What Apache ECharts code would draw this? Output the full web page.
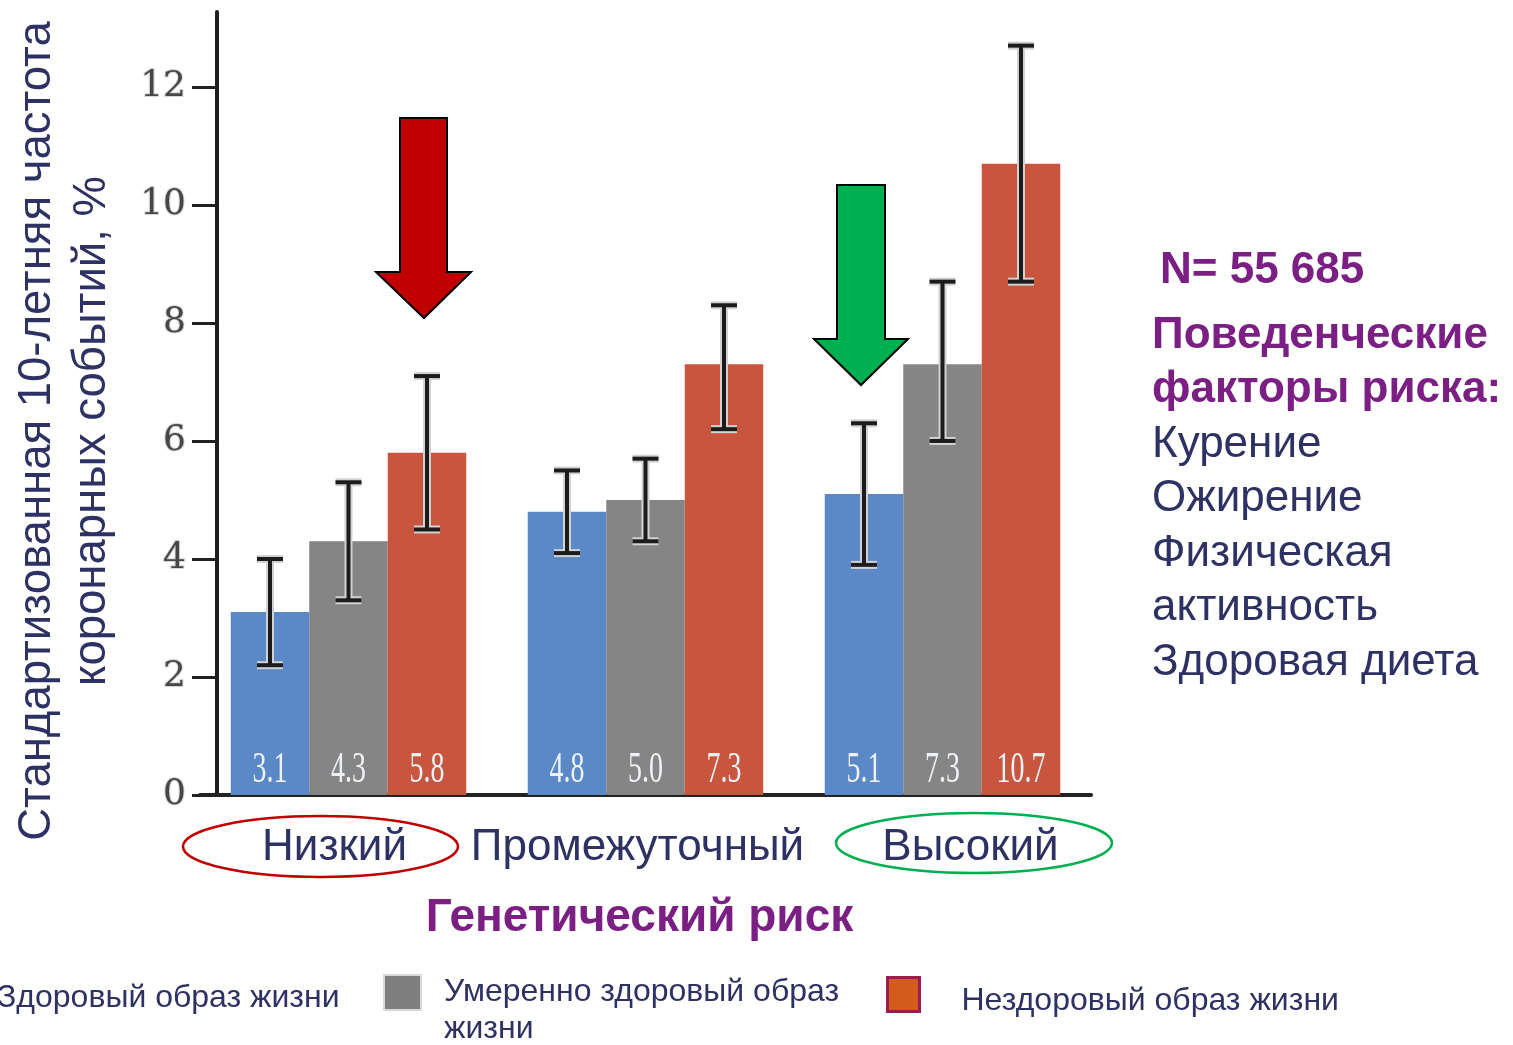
<!DOCTYPE html>
<html>
<head>
<meta charset="utf-8">
<script src="https://cdn.jsdelivr.net/npm/echarts@6/dist/echarts.min.js"></script>
<style>
html,body{margin:0;padding:0;background:#fff;}
#chart{width:1513px;height:1045px;}
</style>
</head>
<body>
<div id="chart"></div>
<script>
// ---- data ----
const categories = ['Низкий', 'Промежуточный', 'Высокий'];
const seriesNames = ['Здоровый образ жизни', 'Умеренно здоровый образ жизни', 'Нездоровый образ жизни'];
const healthy = [3.1, 4.8, 5.1];
const moderate = [4.3, 5.0, 7.3];
const unhealthy = [5.8, 7.3, 10.7];
const healthyLow = [2.2, 4.1, 3.9];
const healthyHigh = [4.0, 5.5, 6.3];
const moderateLow = [3.3, 4.3, 6.0];
const moderateHigh = [5.3, 5.7, 8.7];
const unhealthyLow = [4.5, 6.2, 8.7];
const unhealthyHigh = [7.1, 8.3, 12.7];
const yTicks = [0, 2, 4, 6, 8, 10, 12];

// ---- styling ----
const BAR_W = 78.5;
const barColors = ['#5b88c6', '#858585', '#c8553d'];
const navy = '#2e3163';
const purple = '#7b1f84';

const values = [healthy, moderate, unhealthy];
const lows = [healthyLow, moderateLow, unhealthyLow];
const highs = [healthyHigh, moderateHigh, unhealthyHigh];

const errData = [];
const lblData = [];
for (let s = 0; s < 3; s++) {
  for (let i = 0; i < categories.length; i++) {
    errData.push([i, lows[s][i], highs[s][i], s]);
    lblData.push([i, values[s][i], s]);
  }
}

function renderErr(params, api) {
  const i = api.value(0), lo = api.value(1), hi = api.value(2), s = api.value(3);
  const pLo = api.coord([i, lo]);
  const pHi = api.coord([i, hi]);
  const x = pLo[0] + (s - 1) * BAR_W;
  const cap = 13;
  const mk = (stroke, w) => [
    {type: 'line', shape: {x1: x, y1: pHi[1], x2: x, y2: pLo[1]}, style: {stroke: stroke, lineWidth: w}},
    {type: 'line', shape: {x1: x - cap, y1: pHi[1], x2: x + cap, y2: pHi[1]}, style: {stroke: stroke, lineWidth: w}},
    {type: 'line', shape: {x1: x - cap, y1: pLo[1], x2: x + cap, y2: pLo[1]}, style: {stroke: stroke, lineWidth: w}}
  ];
  return {type: 'group', children: mk('#d2d2d2', 8).concat(mk('#1c1c1c', 4))};
}

function renderLbl(params, api) {
  const i = api.value(0), v = api.value(1), s = api.value(2);
  const p0 = api.coord([i, 0]);
  return {
    type: 'text',
    x: p0[0] + (s - 1) * BAR_W,
    y: p0[1] - 25,
    scaleX: 0.62,
    style: {
      text: v.toFixed(1),
      align: 'center',
      verticalAlign: 'middle',
      fill: '#eef1f6',
      font: '45px "Liberation Serif"'
    }
  };
}

const labelShift = {c0: [0, 28, 0, 0], c1: [0, 16, 0, 0], c2: [0, 0, 0, 56]};
const richCat = {};
Object.keys(labelShift).forEach(k => {
  richCat[k] = {fontSize: 44, fontFamily: 'Liberation Sans', color: navy, padding: labelShift[k]};
});

const chart = echarts.init(document.getElementById('chart'), null, {renderer: 'canvas'});
const option = {
  animation: false,
  backgroundColor: '#fff',
  grid: {left: 200, right: 422, top: 12, bottom: 250, outerBoundsMode: 'none', containLabel: false},
  title: {
    left: 1152, top: 233.5, padding: 0,
    text: '{n|N= 55 685}\n{b|Поведенческие}\n{b|факторы риска:}\n{r|Курение}\n{r|Ожирение}\n{r|Физическая}\n{r|активность}\n{r|Здоровая диета}',
    textStyle: {
      fontWeight: 'normal',
      rich: {
        n: {fontSize: 44, fontWeight: 'bold', color: purple, fontFamily: 'Liberation Sans', lineHeight: 75, padding: [0, 0, 0, 8]},
        b: {fontSize: 44, fontWeight: 'bold', color: purple, fontFamily: 'Liberation Sans', lineHeight: 54.5},
        r: {fontSize: 44, fontWeight: 'normal', color: navy, fontFamily: 'Liberation Sans', lineHeight: 54.5}
      }
    }
  },
  legend: [
    {
      data: [{name: seriesNames[0], itemStyle: {color: barColors[0]}}],
      icon: 'rect',
      left: -62, top: 981, padding: 0, itemWidth: 36, itemHeight: 35, selectedMode: false,
      textStyle: {fontSize: 32, fontFamily: 'Liberation Sans', color: navy, padding: [0, 0, 0, 18]}
    },
    {
      data: [{name: seriesNames[1], itemStyle: {color: '#7f7f7f', borderColor: '#d9d9d9', borderWidth: 2}}],
      icon: 'rect',
      left: 383, top: 937, padding: 0, itemWidth: 37, itemHeight: 35, selectedMode: false,
      formatter: () => ' \nУмеренно здоровый образ\nжизни',
      textStyle: {fontSize: 32, fontFamily: 'Liberation Sans', color: navy, lineHeight: 37, padding: [0, 0, 0, 18]}
    },
    {
      data: [{name: seriesNames[2], itemStyle: {color: '#d35c1d', borderColor: '#9b1b55', borderWidth: 3}}],
      icon: 'rect',
      left: 886, top: 976, padding: 0, itemWidth: 32, itemHeight: 34, selectedMode: false,
      formatter: (name) => '{a|' + name + '}',
      textStyle: {
        fontSize: 32, fontFamily: 'Liberation Sans', color: navy,
        rich: {a: {fontSize: 32, fontFamily: 'Liberation Sans', color: navy, padding: [14, 0, 0, 37]}}
      }
    }
  ],
  xAxis: {
    type: 'category',
    data: categories,
    name: 'Генетический риск',
    nameLocation: 'middle',
    nameGap: 100,
    nameTextStyle: {fontSize: 46, fontWeight: 'bold', color: purple, fontFamily: 'Liberation Sans', padding: [0, 12, 0, 0]},
    axisLine: {show: true, lineStyle: {color: '#222', width: 4}},
    axisTick: {show: false},
    splitLine: {show: false},
    axisLabel: {
      margin: 31,
      formatter: (v, idx) => '{c' + idx + '|' + v + '}',
      rich: richCat
    }
  },
  yAxis: {
    type: 'value',
    min: 0,
    max: 13.27,
    offset: -17,
    splitLine: {show: false},
    axisLine: {show: true, lineStyle: {color: '#1e1e1e', width: 4}},
    axisTick: {show: true, length: 25, customValues: yTicks, lineStyle: {color: '#222', width: 3}},
    axisLabel: {
      customValues: yTicks,
      margin: 31,
      fontSize: 36,
      fontFamily: 'DejaVu Serif',
      color: '#474747',
      textBorderColor: '#d6d6d6',
      textBorderWidth: 2
    }
  },
  series: [
    {name: seriesNames[0], type: 'bar', data: healthy, barWidth: BAR_W, barGap: '0%', itemStyle: {color: barColors[0]}, emphasis: {disabled: true}},
    {name: seriesNames[1], type: 'bar', data: moderate, barWidth: BAR_W, barGap: '0%', itemStyle: {color: barColors[1]}, emphasis: {disabled: true}},
    {name: seriesNames[2], type: 'bar', data: unhealthy, barWidth: BAR_W, barGap: '0%', itemStyle: {color: barColors[2]}, emphasis: {disabled: true}},
    {type: 'custom', renderItem: renderErr, data: errData, encode: {x: 0, y: [1, 2]}, z: 5, silent: true},
    {type: 'custom', renderItem: renderLbl, data: lblData, encode: {x: 0, y: 1}, z: 6, silent: true}
  ],
  graphic: [
    {
      type: 'text', x: 64.5, y: 431, rotation: Math.PI / 2,
      style: {
        text: 'Стандартизованная 10-летняя частота\nкоронарных событий, %',
        font: '45.5px "Liberation Sans"', fill: navy, align: 'center', verticalAlign: 'middle', lineHeight: 55
      }
    },
    {
      type: 'polygon',
      shape: {points: [[400, 118], [447, 118], [447, 272], [471, 272], [424, 318], [376, 272], [400, 272]]},
      style: {fill: '#c00000', stroke: '#000', lineWidth: 2}, z: 10
    },
    {
      type: 'polygon',
      shape: {points: [[837, 185], [885, 185], [885, 339], [908, 339], [861, 385], [814, 339], [837, 339]]},
      style: {fill: '#00b050', stroke: '#000', lineWidth: 2}, z: 10
    },
    {type: 'ellipse', shape: {cx: 320.5, cy: 846.5, rx: 137.5, ry: 30.5}, style: {fill: 'none', stroke: '#c00000', lineWidth: 2.5}, z: 10},
    {type: 'ellipse', shape: {cx: 974, cy: 843, rx: 138, ry: 30}, style: {fill: 'none', stroke: '#00b050', lineWidth: 2.5}, z: 10}
  ]
};
chart.setOption(option);
</script>
</body>
</html>
